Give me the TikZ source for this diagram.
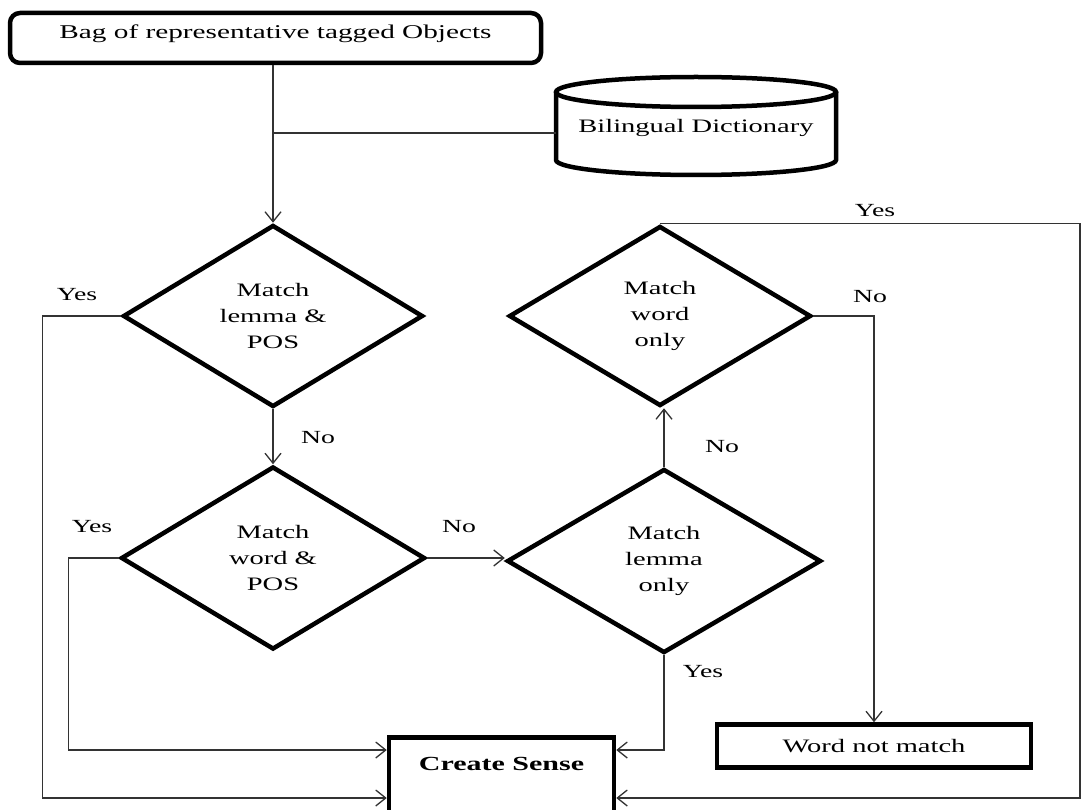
\documentclass[tikz,border=0pt]{standalone}
\usepackage{fontspec}
\setmainfont{Liberation Serif}[FakeStretch=1.5]
\usetikzlibrary{shapes.geometric,arrows.meta}

\begin{document}
\begin{tikzpicture}[x=1pt,y=-1pt,
	decision/.style={diamond, draw, line width=4.5pt, inner sep=0pt, align=center,
		font=\fontsize{19}{26}\selectfont},
	process/.style={rectangle, draw, line width=4.5pt, align=center},
	flow/.style={line width=1.3pt, draw=black!80, -{Straight Barb[length=10pt,width=16pt]}},
	link/.style={line width=1.3pt, draw=black!80},
	lbl/.style={font=\fontsize{18.5}{22}\selectfont}]
\useasboundingbox (0,0) rectangle (1083,810);
\clip (0,0) rectangle (1083,810);

% inputs
\node[process, rounded corners=10pt, minimum width=531pt, minimum height=50pt,
	text depth=13pt, font=\fontsize{19.5}{23}\selectfont]
	(bag) at (275.5,38) {Bag of representative tagged Objects};
\node[minimum width=280pt, minimum height=98pt, text height=17pt,
	font=\fontsize{19}{23}\selectfont]
	(dict) at (696,126) {Bilingual Dictionary};
\draw[line width=4.5pt] (556,92) -- (556,160)
	arc[start angle=180, end angle=360, x radius=140pt, y radius=15pt] -- (836,92);
\draw[line width=4.5pt] (696,92) ellipse [x radius=140pt, y radius=15pt];

% decisions
\node[decision, minimum width=300pt, minimum height=182pt] (d1) at (273,316) {Match\\lemma \&\\POS};
\node[decision, minimum width=304pt, minimum height=183pt] (d2) at (273,558) {Match\\word \&\\POS};
\node[decision, minimum width=314pt, minimum height=184pt] (d3) at (664,561) {Match\\lemma\\only};
\node[decision, minimum width=302pt, minimum height=180pt] (d4) at (660,316) {Match\\word\\only};

% results
\node[process, minimum width=225pt, anchor=north, inner ysep=20pt, text depth=120pt,
	font=\bfseries\fontsize{20}{24}\selectfont]
	(sense) at (501.5,735) {Create Sense};
\node[process, minimum width=314pt, minimum height=43pt, font=\fontsize{19}{23}\selectfont]
	(nomatch) at (874,746) {Word not match};

% connectors
\draw[flow] (bag.south -| d1.north) -- (d1.north);
\coordinate (dictin) at ([yshift=-7pt]dict.west);
\draw[link] (dictin) -- (dictin -| d1.north);
\draw[flow] (d1.west) -- ++(-78,0) |- ([yshift=-63pt]sense.north west);
\draw[flow] (d1.south) -- (d2.north);
\draw[flow] (d2.west) -- ++(-50,0) |- ([yshift=-15pt]sense.north west);
\draw[flow] (d2.east) -- (d2.east -| d3.west);
\draw[flow] (d3.south) |- ([yshift=-15pt]sense.north east);
\draw[flow] (d3.north) -- (d3.north |- d4.south);
\draw[flow] (d4.east) -| (nomatch.north);
\draw[flow] (d4.north) -- ++(420,0) |- ([yshift=-63pt]sense.north east);

% labels
\node[lbl] (yes1) at (77,295) {Yes};
\node[lbl] (no1) at (318,438) {No};
\node[lbl] (yes2) at (92,527) {Yes};
\node[lbl] (no2) at (459,527) {No};
\node[lbl] (no3) at (722,447) {No};
\node[lbl] (yes3) at (703,672) {Yes};
\node[lbl] (yes4) at (875,211) {Yes};
\node[lbl] (no4) at (870,297) {No};
\end{tikzpicture}
\end{document}
